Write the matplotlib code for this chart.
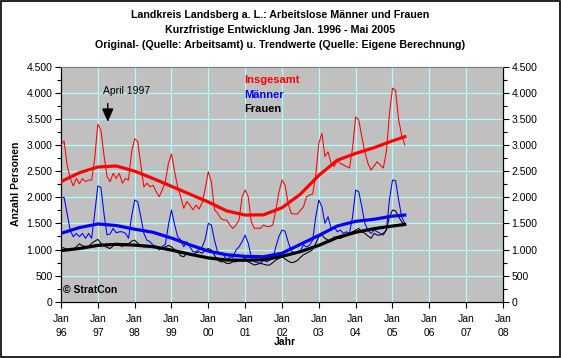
"""
Arbeitslose Maenner und Frauen im Landkreis Landsberg a. L., Jan. 1996 - Mai 2005,
Originalwerte (duenn) und Trendwerte (dick).
"""

import numpy as np                  # NumPy for numerical operations
import matplotlib.pyplot as plt     # Matplotlib for plotting graphs
from matplotlib.ticker import FuncFormatter, MultipleLocator
from matplotlib.patches import Rectangle

plt.rcParams['font.family'] = ['Liberation Sans', 'DejaVu Sans']

# Monatswerte (Jan 1996 ... Mai 2005)
insgesamt = [
    3000, 3080, 2620, 2360, 2220, 2360, 2260, 2360, 2300, 2330, 2330, 2750,   # 1996
    3400, 3290, 2810, 2400, 2300, 2460, 2360, 2460, 2270, 2360, 2330, 2870,   # 1997
    3120, 3070, 2620, 2200, 2270, 2200, 2230, 2110, 2010, 2140, 2300, 2650,   # 1998
    2830, 2500, 2200, 2010, 1790, 1915, 1850, 1760, 1850, 1775, 1900, 2170,   # 1999
    2490, 2300, 1760, 1700, 1600, 1565, 1565, 1470, 1405, 1470, 1565, 2010,   # 2000
    2140, 2010, 1530, 1405, 1410, 1405, 1470, 1440, 1440, 1470, 1760, 2100,   # 2001
    2330, 2235, 1884, 1693, 1680, 1680, 1750, 1820, 2010, 2045, 2060, 2430,   # 2002
    3030, 3225, 2780, 2870, 2650, 2590, 2700, 2650, 2620, 2590, 2560, 2950,   # 2003
    3540, 3480, 3160, 2870, 2650, 2520, 2600, 2680, 2620, 2560, 2870, 3600,   # 2004
    4090, 4050, 3480, 3190, 3000,                                             # 2005
]
maenner = [
    1990, 2000, 1690, 1370, 1245, 1310, 1245, 1310, 1215, 1310, 1215, 1700,
    2216, 2190, 1690, 1280, 1300, 1405, 1320, 1340, 1340, 1310, 1215, 1630,
    1950, 1916, 1630, 1310, 1180, 1150, 1086, 1060, 990, 1060, 1100, 1470,
    1756, 1480, 1250, 1182, 1053, 1150, 1053, 958, 958, 1000, 1053, 1200,
    1501, 1469, 1182, 958, 925, 894, 798, 862, 850, 990, 1053, 1150,
    1277, 1120, 862, 766, 750, 735, 798, 766, 798, 830, 1053, 1250,
    1373, 1350, 1150, 977, 940, 940, 980, 1086, 1050, 1086, 1182, 1628,
    1948, 1820, 1501, 1628, 1405, 1437, 1340, 1373, 1310, 1340, 1310, 1628,
    2139, 2107, 1820, 1501, 1373, 1310, 1373, 1340, 1310, 1277, 1373, 1948,
    2330, 2320, 1948, 1628, 1501,
]
frauen = [
    1040, 1030, 1000, 990, 1010, 1050, 1110, 1070, 1060, 1060, 1120, 1160,
    1195, 1120, 1080, 1040, 1020, 1070, 1110, 1080, 1060, 1100, 1110, 1160,
    1180, 1120, 1080, 1050, 1060, 1050, 1070, 1040, 1020, 1030, 1050, 1080,
    1053, 1000, 960, 880, 862, 925, 910, 894, 940, 958, 930, 990,
    1020, 990, 894, 798, 766, 766, 735, 735, 766, 766, 798, 810,
    830, 766, 735, 703, 720, 735, 720, 703, 703, 750, 798, 830,
    862, 820, 780, 750, 760, 790, 850, 900, 930, 960, 1000, 1118,
    1245, 1277, 1214, 1182, 1150, 1245, 1214, 1214, 1245, 1260, 1310, 1340,
    1373, 1405, 1340, 1310, 1260, 1214, 1310, 1277, 1277, 1310, 1373, 1628,
    1756, 1740, 1628, 1532, 1469,
]

trend_monate = [0, 6, 12, 18, 24, 30, 36, 42, 48, 54, 60, 66, 72, 78, 84, 90, 96, 102, 108, 112]
trend_insgesamt = [2300, 2470, 2580, 2600, 2500, 2360, 2210, 2060, 1910, 1740,
                   1660, 1665, 1800, 2060, 2420, 2710, 2840, 2950, 3080, 3160]
trend_maenner = [1310, 1420, 1490, 1460, 1390, 1330, 1220, 1090, 970, 900,
                 870, 862, 930, 1100, 1270, 1450, 1540, 1580, 1640, 1660]
trend_frauen = [980, 1020, 1080, 1100, 1085, 1055, 990, 910, 840, 800,
                795, 805, 870, 960, 1080, 1230, 1330, 1400, 1450, 1480]

jahre = list(range(1996, 2009))
tick_labels = ["Jan\n%02d" % (j % 100) for j in jahre]


def plot_chart():
    fig = plt.figure(figsize=(5.61, 3.58), dpi=100)
    ax = fig.add_axes([0.1087, 0.157, 0.7879, 0.6567])
    ax.set_facecolor('#C0C0C0')

    x = 1996 + np.arange(len(insgesamt)) / 12.0
    xt = 1996 + np.array(trend_monate) / 12.0

    # Originalwerte
    ax.plot(x, insgesamt, color='#FF0000', lw=0.75, zorder=3)
    ax.plot(x, maenner, color='#0000FF', lw=0.75, zorder=3)
    ax.plot(x, frauen, color='black', lw=0.75, zorder=3)
    # Trendwerte
    ax.plot(xt, trend_insgesamt, color='#FF0000', lw=2.3, zorder=4)
    ax.plot(xt, trend_maenner, color='#0000FF', lw=2.3, zorder=4)
    ax.plot(xt, trend_frauen, color='black', lw=2.3, zorder=4)

    ax.set_xlim(1996, 2008)
    ax.set_ylim(0, 4500)
    ax.set_xticks(jahre)
    ax.set_xticklabels(tick_labels, linespacing=1.45)
    ax.yaxis.set_major_locator(MultipleLocator(500))
    ax.yaxis.set_minor_locator(MultipleLocator(250))
    ax.yaxis.set_major_formatter(FuncFormatter(lambda v, _: f"{int(v):,}".replace(",", ".")))
    ax.tick_params(axis='both', labelsize=7.5, direction='out', length=4, width=0.8, pad=2)
    ax.tick_params(axis='y', which='both', right=True, labelright=True)
    ax.tick_params(axis='y', which='minor', length=3, width=0.8)
    ax.tick_params(axis='x', pad=5)
    ax.grid(True, color='#B0FFFF', lw=0.9, zorder=1)
    ax.set_axisbelow(True)

    for side in ['left', 'right', 'bottom']:
        ax.spines[side].set_color('black')
        ax.spines[side].set_linewidth(0.9)
    ax.spines['top'].set_color('#808080')
    ax.spines['top'].set_linewidth(0.9)

    ax.set_ylabel('Anzahl Personen', fontsize=7.5, fontweight='bold', labelpad=4)
    fig.text(285 / 561, 1 - 342 / 358, 'Jahr', fontsize=7.5, fontweight='bold',
             ha='center', va='center')

    # Legende als Text
    ax.text(0.414, 0.943, 'Insgesamt', color='#FF0000', fontsize=8, fontweight='bold',
            transform=ax.transAxes, va='center', ha='left')
    ax.text(0.414, 0.88, 'Männer', color='#0000FF', fontsize=8, fontweight='bold',
            transform=ax.transAxes, va='center', ha='left')
    ax.text(0.414, 0.82, 'Frauen', color='black', fontsize=8, fontweight='bold',
            transform=ax.transAxes, va='center', ha='left')

    # April 1997 Markierung
    ax.annotate('', xy=(1997.27, 3390), xytext=(1997.27, 3850),
                arrowprops=dict(arrowstyle='-|>,head_width=0.35,head_length=0.8',
                                color='black', lw=1.0), zorder=5)
    ax.text(1997.14, 4035, 'April 1997', fontsize=7.5, va='center', ha='left', zorder=5)

    ax.text(0.004, 0.05, '© StratCon', fontsize=7.5, fontweight='bold',
            transform=ax.transAxes, va='center', ha='left', zorder=5)

    # Titel
    titel = ['Landkreis Landsberg a. L.: Arbeitslose Männer und Frauen',
             'Kurzfristige Entwicklung Jan. 1996 - Mai 2005',
             'Original- (Quelle: Arbeitsamt) u. Trendwerte (Quelle: Eigene Berechnung)']
    for i, zeile in enumerate(titel):
        fig.text(0.5, 1 - (15 + 15 * i) / 358, zeile,
                 ha='center', va='center', fontsize=7.7, fontweight='bold')

    # Rahmen um die ganze Grafik
    fig.patches.append(Rectangle((0.001, 0.002), 0.997, 0.996, transform=fig.transFigure,
                                 fill=False, edgecolor='black', lw=1.2))

    fig.savefig('out.png', dpi=100)


def main():
    plot_chart()


if __name__ == "__main__":
    main()
